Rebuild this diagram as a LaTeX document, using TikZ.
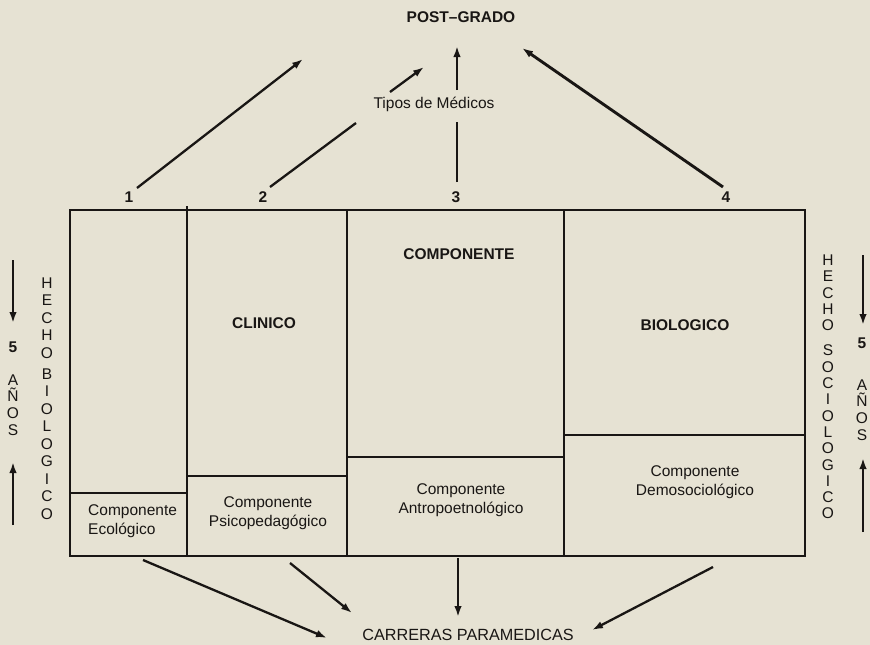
\documentclass[tikz,border=0pt]{standalone}
\usepackage{fontspec}
\setmainfont{Liberation Sans}
\usetikzlibrary{arrows.meta}
\definecolor{paper}{RGB}{230,226,211}
\definecolor{ink}{RGB}{25,22,20}
\begin{document}
\begin{tikzpicture}[x=1pt,y=-1pt,
  ln/.style={draw=ink,line width=2.3pt},
  arr/.style={draw=ink,line width=2.3pt,-{Latex[length=11pt,width=7.5pt]}},
  lbl/.style={text=ink,font=\fontsize{15.5}{19}\selectfont, inner sep=0pt, align=center},
  blbl/.style={text=ink,font=\fontsize{15.5}{18}\selectfont\bfseries, inner sep=0pt},
  vert/.style={text=ink,inner sep=0pt, align=center, anchor=north}
]
\fill[paper] (0,0) rectangle (870,645);
\useasboundingbox (0,0) rectangle (870,645);

% main box
\coordinate (tl) at (70,210);
\coordinate (br) at (805,556);
\draw[ln] (tl) rectangle (br);
\draw[ln] (187,206) -- (187,556);
\draw[ln] (347,210) -- (347,556);
\draw[ln] (564,210) -- (564,556);
\draw[ln] (70,493) -- (187,493);
\draw[ln] (187,476) -- (347,476);
\draw[ln] (347,457) -- (564,457);
\draw[ln] (564,435) -- (805,435);

% labels
\node[blbl] (post) at (461,17) {POST–GRADO};
\node[lbl] (tipos) at (434,104) {Tipos de Médicos};
\node[blbl] (n1) at (129,197) {1};
\node[blbl] (n2) at (263,197) {2};
\node[blbl] (n3) at (456,197) {3};
\node[blbl] (n4) at (726,197) {4};
\node[blbl] (comp) at (459,254) {COMPONENTE};
\node[blbl] (clin) at (264,323) {CLINICO};
\node[blbl] (bio) at (685,325) {BIOLOGICO};
\node[lbl, align=left, anchor=west] (eco) at (88,521) {Componente\\Ecológico};
\node[lbl] (psico) at (268,513) {Componente\\Psicopedagógico};
\node[lbl] (antro) at (461,500) {Componente\\Antropoetnológico};
\node[lbl] (demo) at (695,482) {Componente\\Demosociológico};
\node[lbl,font=\fontsize{16.2}{18}\selectfont] (carr) at (468,635) {CARRERAS PARAMEDICAS};

% vertical labels
\node[vert,font=\fontsize{15.5}{17.5}\selectfont] (hbio) at (47,277.5)
  {H\\E\\C\\H\\O\\[3.5pt]B\\I\\O\\L\\O\\G\\I\\C\\O};
\node[vert,font=\fontsize{15.5}{16.3}\selectfont] (hsoc) at (828,254.6)
  {H\\E\\C\\H\\O\\[9pt]S\\O\\C\\I\\O\\L\\O\\G\\I\\C\\O};
\node[vert,font=\fontsize{15.5}{16.7}\selectfont] (anl) at (13,341.6)
  {\bfseries 5\\[16pt]A\\Ñ\\O\\S};
\node[vert,font=\fontsize{15.5}{16.7}\selectfont] (anr) at (862,337.6)
  {\bfseries 5\\[25pt]A\\Ñ\\O\\S};

% side arrows
\coordinate (ld1) at (13,260); \coordinate (ld2) at (13,323);
\coordinate (lu1) at (13,525); \coordinate (lu2) at (13,462);
\coordinate (rd1) at (863,255); \coordinate (rd2) at (863,325);
\coordinate (ru1) at (863,532); \coordinate (ru2) at (863,458);
\draw[arr] (ld1) -- (ld2);
\draw[arr] (lu1) -- (lu2);
\draw[arr] (rd1) -- (rd2);
\draw[arr] (ru1) -- (ru2);

% top arrows
\coordinate (a1s) at (137,188); \coordinate (a1e) at (303,59);
\coordinate (a2s) at (270,187); \coordinate (a2m) at (356,123);
\coordinate (a2u) at (390,92);  \coordinate (a2e) at (424,67);
\coordinate (a3s) at (457,182); \coordinate (a3m) at (457,122);
\coordinate (a3u) at (457,90);  \coordinate (a3e) at (457,46);
\coordinate (a4s) at (723,187); \coordinate (a4e) at (522,48);
\draw[arr] (a1s) -- (a1e);
\draw[ln] (a2s) -- (a2m);
\draw[arr] (a2u) -- (a2e);
\draw[ln] (a3s) -- (a3m);
\draw[arr] (a3u) -- (a3e);
\draw[arr,line width=2.9pt] (a4s) -- (a4e);

% bottom arrows
\coordinate (b1s) at (143,560); \coordinate (b1e) at (327,638);
\coordinate (b2s) at (290,563); \coordinate (b2e) at (352,613);
\coordinate (b3s) at (458,558); \coordinate (b3e) at (458,617);
\coordinate (b4s) at (713,567); \coordinate (b4e) at (592,630);
\draw[arr] (b1s) -- (b1e);
\draw[arr] (b2s) -- (b2e);
\draw[arr] (b3s) -- (b3e);
\draw[arr] (b4s) -- (b4e);
\end{tikzpicture}
\end{document}
